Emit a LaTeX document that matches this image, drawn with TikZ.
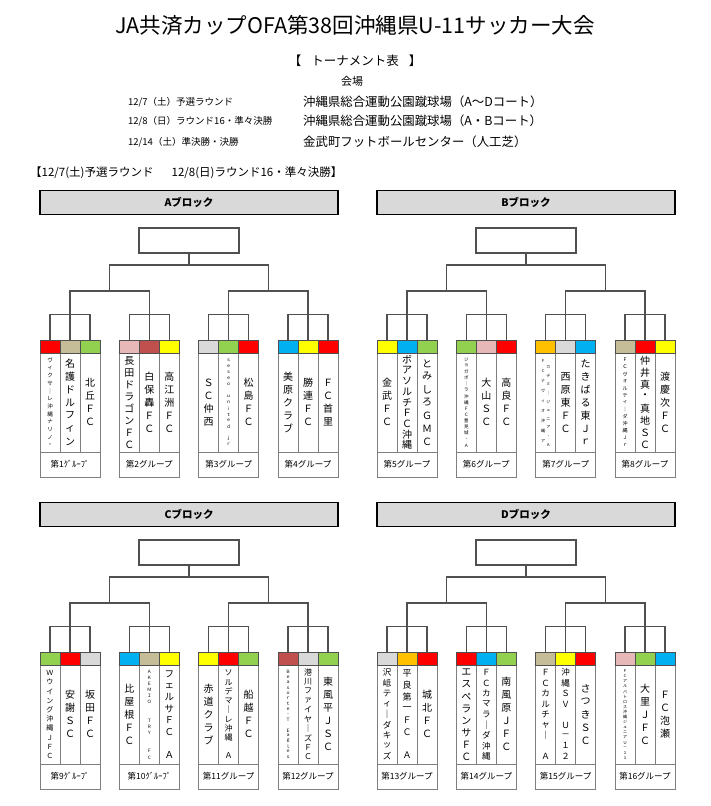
\documentclass[tikz,border=0pt]{standalone}
\usepackage{fontspec}
\setmainfont{Noto Sans CJK JP}
\definecolor{cred}{HTML}{FF0000}
\definecolor{ctan}{HTML}{C4BD97}
\definecolor{cgreen}{HTML}{92D050}
\definecolor{cpink}{HTML}{E6B9B8}
\definecolor{cdred}{HTML}{C0504D}
\definecolor{cyellow}{HTML}{FFFF00}
\definecolor{cgray}{HTML}{D9D9D9}
\definecolor{cblue}{HTML}{00B0F0}
\definecolor{corange}{HTML}{FFC000}
\definecolor{linegray}{HTML}{505050}
\definecolor{boxgray}{HTML}{7F7F7F}

\ExplSyntaxOn
\dim_new:N \l__vt_pitch_dim
\dim_new:N \l__vt_size_dim
\int_new:N \l__vt_n_int
\cs_new_protected:Npn \__vt_make:n #1
 {
  \vbox:n
   {
    \fontsize{\dim_use:N \l__vt_size_dim}{\dim_use:N \l__vt_size_dim}\selectfont
    \offinterlineskip
    \tl_map_inline:nn {#1}
     {
      \hbox_to_wd:nn { \l__vt_size_dim * 12 / 10 }
       { \hss \vbox_to_ht:nn { \l__vt_pitch_dim } { \vss \hbox:n {##1} \vss } \hss }
     }
   }
 }
\NewDocumentCommand \vt { O{10pt} m }
 {
  \dim_set:Nn \l__vt_size_dim {#1}
  \int_set:Nn \l__vt_n_int { \tl_count:n {#2} }
  \dim_set:Nn \l__vt_pitch_dim { \dim_min:nn { \l__vt_size_dim * 13 / 10 } { 96pt / \l__vt_n_int } }
  \__vt_make:n {#2}
 }
\NewDocumentCommand \vtf { O{5pt} O{94pt} m }
 {
  \dim_set:Nn \l__vt_size_dim {#1}
  \int_set:Nn \l__vt_n_int { \tl_count:n {#3} }
  \dim_set:Nn \l__vt_pitch_dim { (#2) / \l__vt_n_int }
  \__vt_make:n {#3}
 }
\ExplSyntaxOff

\newcommand\glab[1]{\ifnum#1=1 第#1ｸﾞﾙｰﾌﾟ\else\ifnum#1=9 第#1ｸﾞﾙｰﾌﾟ\else\ifnum#1=10 第#1ｸﾞﾙｰﾌﾟ\else 第#1グループ\fi\fi\fi}

\tikzset{
  hdr/.style={draw=black, line width=1.8pt, fill=cgray, minimum width=298pt, minimum height=24pt, inner sep=0pt, font=\fontsize{10.5}{10.5}\selectfont\bfseries},
  win/.style={draw=linegray, line width=1.1pt, minimum width=100pt, minimum height=25pt, inner sep=0pt},
  br/.style={draw=linegray, line width=1.1pt},
  gbox/.style={draw=boxgray, line width=0.9pt},
  cell/.style={draw=linegray, line width=0.7pt, minimum width=20pt, minimum height=13pt, inner sep=0pt},
  tname/.style={inner sep=0pt},
  glabel/.style={inner sep=0pt, font=\fontsize{8.5}{8.5}\selectfont},
}

% #1 num, #2 x, #3 y, #4-#6 colors, #7-#9 names
\newcommand\grp[9]{%
\begin{scope}[shift={(#2,#3)}]
 \draw[gbox] (0,0) rectangle (60,137);
 \draw[gbox] (20,13) -- (20,112) (40,13) -- (40,112) (0,112) -- (60,112);
 \node[cell,fill=#4] (g#1a) at (10,6.5) {};
 \node[cell,fill=#5] (g#1b) at (30,6.5) {};
 \node[cell,fill=#6] (g#1c) at (50,6.5) {};
 \node[tname] (g#1na) at (10,62.5) {#7};
 \node[tname] (g#1nb) at (30,62.5) {#8};
 \node[tname] (g#1nc) at (50,62.5) {#9};
 \node[glabel] (g#1l) at (30,124.5) {\glab{#1}};
\end{scope}}

% #1 letter, #2 bx, #3 by, #4-#7 group numbers
\newcommand\blk[7]{%
\begin{scope}[shift={(#2,#3)}]
 \node[hdr] (h#1) at (189,202.5) {#1ブロック};
 \node[win] (w#1) at (189,240.5) {};
 \coordinate (m#1) at (189,265);
 \coordinate (pl#1) at (109.67,291);
 \coordinate (pr#1) at (268.33,291);
\end{scope}
 \foreach \g in {#4,#5,#6,#7} {
   \path (g\g b.north) ++(0,-25) coordinate (j\g);
   \draw[br] (g\g a.north) |- (j\g) -| (g\g c.north);
   \draw[br] (g\g b.north) -- (j\g);
 }
 \draw[br] (j#4) |- (pl#1) -| (j#5);
 \draw[br] (j#6) |- (pr#1) -| (j#7);
 \draw[br] (pl#1) |- (m#1) -| (pr#1);
 \draw[br] (m#1) -- (w#1.south);
}

\begin{document}
\begin{tikzpicture}[x=1pt,y=-1pt]
\useasboundingbox (0,0) rectangle (711,806);
\fill[white] (0,0) rectangle (711,806);

% header texts
\node[inner sep=0pt, font=\fontsize{21.5}{21.5}\selectfont] (title) at (355,25) {JA共済カップOFA第38回沖縄県U-11サッカー大会};
\node[inner sep=0pt, font=\fontsize{12.5}{12.5}\selectfont] (sub) at (355,61) {【\hspace{10pt}トーナメント表\hspace{10pt}】};
\node[inner sep=0pt, font=\fontsize{11}{11}\selectfont] (kaijo) at (352,81) {会場};
\node[anchor=west, inner sep=0pt, font=\fontsize{9.5}{9.5}\selectfont] (d1) at (128,102) {12/7（土）予選ラウンド};
\node[anchor=west, inner sep=0pt, font=\fontsize{9.5}{9.5}\selectfont] (d2) at (128,121) {12/8（日）ラウンド16・準々決勝};
\node[anchor=west, inner sep=0pt, font=\fontsize{9.5}{9.5}\selectfont] (d3) at (128,142) {12/14（土）準決勝・決勝};
\node[anchor=west, inner sep=0pt, font=\fontsize{12.4}{12.4}\selectfont] (v1) at (303,102) {沖縄県総合運動公園蹴球場（A～Dコート）};
\node[anchor=west, inner sep=0pt, font=\fontsize{12.4}{12.4}\selectfont] (v2) at (303,121) {沖縄県総合運動公園蹴球場（A・Bコート）};
\node[anchor=west, inner sep=0pt, font=\fontsize{12.4}{12.4}\selectfont] (v3) at (303,142) {金武町フットボールセンター（人工芝）};
\node[anchor=west, inner sep=0pt, font=\fontsize{11.5}{11.5}\selectfont] (sched) at (30,173) {【12/7(土)予選ラウンド\hspace{18pt}12/8(日)ラウンド16・準々決勝】};

% A block groups
\grp{1}{40}{340}{cred}{ctan}{cgreen}{\vtf[5.5pt][92pt]{ヴィクサ｜レ沖縄ナリノ・}}{\vt{名護ドルフィン}}{\vt{北丘ＦＣ}}
\grp{2}{119.33}{340}{cpink}{cdred}{cyellow}{\vt{長田ドラゴンＦＣ}}{\vt{白保轟ＦＣ}}{\vt{高江洲ＦＣ}}
\grp{3}{198.67}{340}{cgray}{cgreen}{cred}{\vt{ＳＣ仲西}}{\vtf[4.5pt][90pt]{ｓｅｓｅｏ{}ｕｎｉｔｅｄ{}ｊｒ}}{\vt{松島ＦＣ}}
\grp{4}{278}{340}{cblue}{cyellow}{cred}{\vt{美原クラブ}}{\vt{勝連ＦＣ}}{\vt{ＦＣ首里}}
% B block groups
\grp{5}{377}{340}{cyellow}{cblue}{cgreen}{\vt{金武ＦＣ}}{\vt{ボアソルチＦＣ沖縄}}{\vt{とみしろＧＭＣ}}
\grp{6}{456.33}{340}{cgreen}{cpink}{cred}{\vtf[4.5pt][92pt]{ジョガボ｜ラ沖縄ＦＣ豊見城・Ａ}}{\vt{大山ＳＣ}}{\vt{高良ＦＣ}}
\grp{7}{535.67}{340}{corange}{cgray}{cblue}{\vtf[4pt][90pt]{ＦＣナヴィオ沖縄ア}\hspace{0.5pt}\raisebox{-3pt}{\vtf[4pt][86pt]{カデミ｜ジュニア・Ａ}}}{\vt{西原東ＦＣ}}{\vt{たきばる東Ｊｒ}}
\grp{8}{615}{340}{ctan}{cred}{cyellow}{\vtf[5pt][92pt]{ＦＣヴォルティ｜ダ沖縄Ｊｒ}}{\vt{仲井真・真地ＳＣ}}{\vt{渡慶次ＦＣ}}
% C block groups
\grp{9}{40}{652}{cgreen}{cred}{cgray}{\vtf[7pt][92pt]{Ｗウイング沖縄ＪＦＣ}}{\vt{安謝ＳＣ}}{\vt{坂田ＦＣ}}
\grp{10}{119.33}{652}{cblue}{ctan}{cyellow}{\vt{比屋根ＦＣ}}{\vtf[4.5pt][92pt]{ＡＫＥＭＩＯ{}{}ＴＲＹ{}{}ＦＣ}}{\vtf[9.5pt][92pt]{フェルサＦＣ{}Ａ}}
\grp{11}{198.67}{652}{cyellow}{cred}{cgreen}{\vt{赤道クラブ}}{\vtf[8pt][92pt]{ソルデマ｜レ沖縄{}Ａ}}{\vt{船越ＦＣ}}
\grp{12}{278}{652}{cdred}{cgray}{cgreen}{\vtf[4.5pt][90pt]{Ｂｅａｓｏｒｔｅ・Ｔ{}Ｅａｇｌｅｓ}}{\vtf[8pt][94pt]{港川ファイヤ｜ズＦＣ}}{\vt{東風平ＪＳＣ}}
% D block groups
\grp{13}{377}{652}{cgray}{corange}{cred}{\vtf[8.5pt][94pt]{沢岻ティ｜ダキッズ}}{\vtf[9pt][94pt]{平良第一ＦＣ{}Ａ}}{\vt{城北ＦＣ}}
\grp{14}{456.33}{652}{cred}{cblue}{cgreen}{\vt{エスペランサＦＣ}}{\vtf[8.5pt][94pt]{ＦＣカマラ｜ダ沖縄}}{\vt{南風原ＪＦＣ}}
\grp{15}{535.67}{652}{ctan}{cyellow}{cred}{\vtf[8.5pt][94pt]{ＦＣカルチャ｜{}Ａ}}{\vtf[8.5pt][94pt]{沖縄ＳＶ{}Ｕ－１２}}{\vt{さつきＳＣ}}
\grp{16}{615}{652}{cpink}{cgreen}{cblue}{\vtf[4pt][92pt]{ＦＣアルバトロス沖縄ジュニアＵ－１１}}{\vt{大里ＪＦＣ}}{\vt{ＦＣ泡瀬}}

\blk{A}{0}{0}{1}{2}{3}{4}
\blk{B}{337}{0}{5}{6}{7}{8}
\blk{C}{0}{312}{9}{10}{11}{12}
\blk{D}{337}{312}{13}{14}{15}{16}
\end{tikzpicture}
\end{document}
